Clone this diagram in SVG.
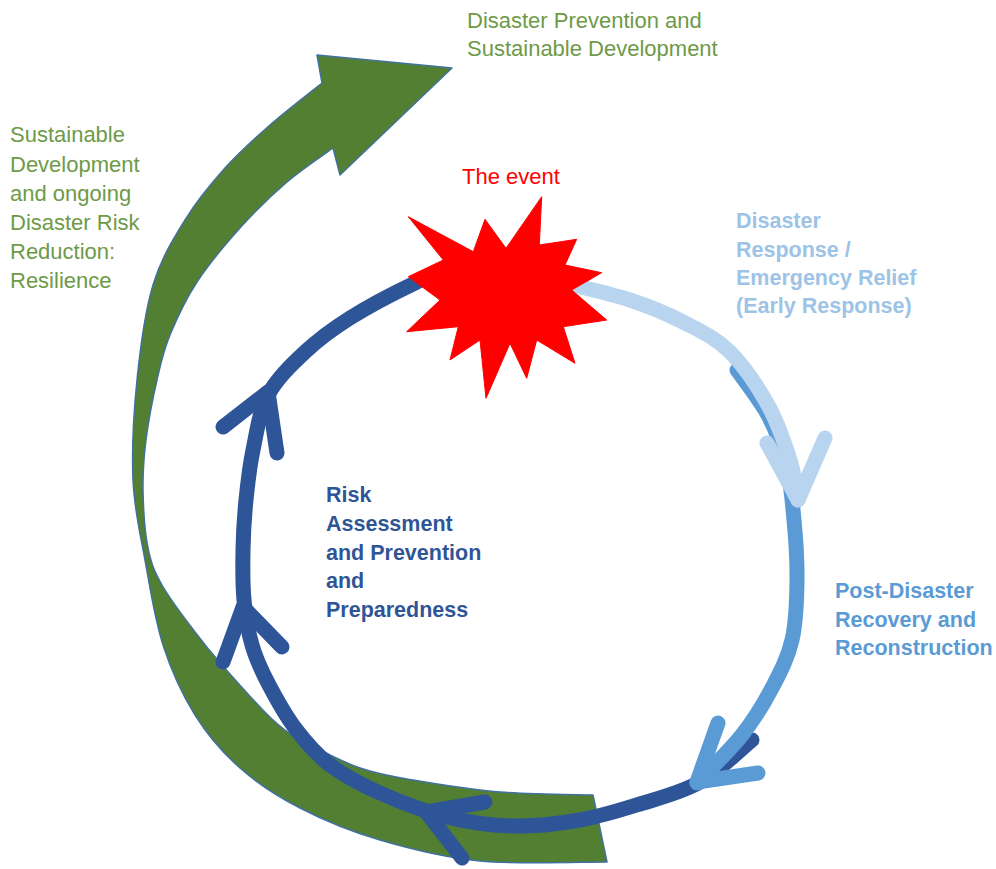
<svg xmlns="http://www.w3.org/2000/svg" width="996" height="869" viewBox="0 0 996 869">
<style>
.green{font-family:"Liberation Sans",Arial,sans-serif;font-size:22px;fill:#6e9a48}
.blue{font-family:"Liberation Sans",Arial,sans-serif;font-size:21.5px;font-weight:bold}
.ring{fill:none;stroke-width:15;stroke-linecap:round;stroke-linejoin:round}
.head{fill:none;stroke-width:15;stroke-linecap:round;stroke-linejoin:round}
.dark{stroke:#2e5597}
.mid{stroke:#5b9bd5}
.light{stroke:#b9d4ef}
</style>
<rect width="996" height="869" fill="#ffffff"/>
<g id="green-arrow">
<path fill="#537f33" stroke="#41719c" stroke-width="1.5" stroke-linejoin="round" d="M607 862 C585.8 861.8 517.8 864.7 480 861 C442.2 857.3 410 848.8 380 840 C350 831.2 323.3 820 300 808 C276.7 796 257.5 783.5 240 768 C222.5 752.5 207.8 735.5 195 715 C182.2 694.5 171.3 670.8 163 645 C154.7 619.2 150 587.5 145 560 C140 532.5 134.3 510 133 480 C131.7 450 133.7 412.5 137 380 C140.3 347.5 145 311.7 153 285 C161 258.3 173 239.5 185 220 C197 200.5 210.8 183.8 225 168 C239.2 152.2 253.8 139.2 270 125 C286.2 110.8 313.3 90 322 83 L317 55 L452 68 L340 175 L333 148 C325.3 153.7 302.5 168.7 287 182 C271.5 195.3 255 211.3 240 228 C225 244.7 208.7 264.2 197 282 C185.3 299.8 176.7 318.7 170 335 C163.3 351.3 161 362.5 157 380 C153 397.5 148.3 421.7 146 440 C143.7 458.3 142.7 472 143 490 C143.3 508 144.8 532.2 148 548 C151.2 563.8 154.2 571 162 585 C169.8 599 185 618.7 195 632 C205 645.3 209 650.3 222 665 C235 679.7 258.8 707 273 720 C287.2 733 292.5 735 307 743 C321.5 751 342.3 761.8 360 768 C377.7 774.2 389.7 776 413 780 C436.3 784 470 789.5 500 792 C530 794.5 577.5 794.5 593 795 Z"/>
</g>
<g id="connectors">
<g id="risk-cycle">
<path class="ring dark" d="M752 740 C743.3 747 718.7 771.3 700 782 C681.3 792.7 660 797.7 640 804 C620 810.3 601.2 816.3 580 820 C558.8 823.7 535.2 826.5 513 826 C490.8 825.5 469.2 822.5 447 817 C424.8 811.5 399.5 801.7 380 793 C360.5 784.3 344.2 775.8 330 765 C315.8 754.2 305.3 741.7 295 728 C284.7 714.3 275.2 696.8 268 683 C260.8 669.2 256 658.8 252 645 C248 631.2 245.5 615.8 244 600 C242.5 584.2 242.7 566.7 243 550 C243.3 533.3 244.3 516.7 246 500 C247.7 483.3 249.3 467.5 253 450 C256.7 432.5 259.3 411.3 268 395 C276.7 378.7 291.3 364.8 305 352 C318.7 339.2 331.7 329.5 350 318 C368.3 306.5 400 290.2 415 283 C430 273.8 435.8 276.3 440 275"/>
<polyline class="head dark" points="485,802 426,812 462,858"/>
<polyline class="head dark" points="282,647 243,607 223,662"/>
<polyline class="head dark" points="277,453 268,392 223,427"/>
</g>
<g id="recovery-arrow">
<path class="ring mid" d="M737 370 C742 377 756 395 765 410 C774 425 781 443 786 462 C791 481 792 500 794 520 C796 540 797.2 560 797 580 C796.8 600 796.2 622 792 640 C787.8 658 780.3 672.2 772 688 C763.7 703.8 754.5 719.2 742 735 C729.5 750.8 704.5 775 697 783"/>
<polyline class="head mid" points="718,723 697,782 758,773"/>
</g>
<g id="response-arrow">
<path class="ring light" d="M560 282 C571.7 285 609.2 293.2 630 300 C650.8 306.8 668.3 314.3 685 323 C701.7 331.7 716.2 338.3 730 352 C743.8 365.7 758 387 768 405 C778 423 785 444.2 790 460 C795 475.8 796.7 493.3 798 500"/>
<polyline class="head light" points="767,443 798,500 825,438"/>
</g>
</g>
<g id="event">
<polygon fill="#ff0000" stroke="#ff0000" stroke-width="1" stroke-linejoin="miter" points="408.3,216.7 473.3,251.7 485,219.3 506,248.3 541.7,196.7 539.3,245 576.7,239.3 565,265 601.7,272.7 571.7,290 606.7,320 563.3,326.7 575,363.3 536.7,340 526.7,378.3 510,343.3 486,398.3 480,340 450,360 458.3,326.7 406.7,331.7 440,300 408.3,276.7 443.3,260"/>
<text x="462" y="184" font-family="Liberation Sans, Arial, sans-serif" font-size="22" fill="#ff0000">The event</text>
</g>
<g id="prevention-label">
<text class="green" x="467" y="28">Disaster Prevention and</text>
<text class="green" x="467" y="56">Sustainable Development</text>
</g>
<g id="resilience-label">
<text class="green" x="10" y="142">Sustainable</text>
<text class="green" x="10" y="172">Development</text>
<text class="green" x="10" y="201">and ongoing</text>
<text class="green" x="10" y="230">Disaster Risk</text>
<text class="green" x="10" y="259">Reduction:</text>
<text class="green" x="10" y="288">Resilience</text>
</g>
<g id="response-label">
<text class="blue" fill="#9dc3e6" x="736" y="228">Disaster</text>
<text class="blue" fill="#9dc3e6" x="736" y="257">Response /</text>
<text class="blue" fill="#9dc3e6" x="736" y="285">Emergency Relief</text>
<text class="blue" fill="#9dc3e6" x="736" y="313">(Early Response)</text>
</g>
<g id="risk-label">
<text class="blue" fill="#2f5597" x="326" y="502">Risk</text>
<text class="blue" fill="#2f5597" x="326" y="531">Assessment</text>
<text class="blue" fill="#2f5597" x="326" y="560">and Prevention</text>
<text class="blue" fill="#2f5597" x="326" y="588">and</text>
<text class="blue" fill="#2f5597" x="326" y="617">Preparedness</text>
</g>
<g id="recovery-label">
<text class="blue" fill="#5b9bd5" x="835" y="598">Post-Disaster</text>
<text class="blue" fill="#5b9bd5" x="835" y="627">Recovery and</text>
<text class="blue" fill="#5b9bd5" x="835" y="655">Reconstruction</text>
</g>
</svg>
